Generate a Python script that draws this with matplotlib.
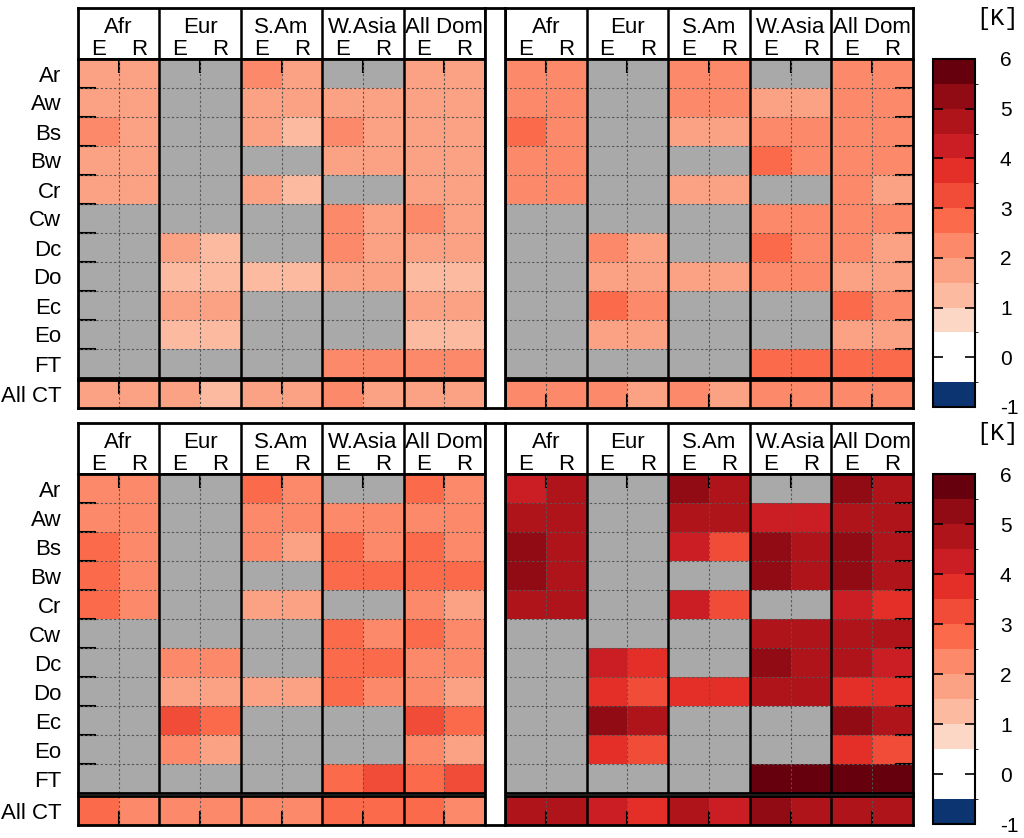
import numpy as np
import matplotlib.pyplot as plt
from matplotlib.colors import ListedColormap, BoundaryNorm
from matplotlib.cm import ScalarMappable

nan = np.nan

# labels
ROWS = ["Ar", "Aw", "Bs", "Bw", "Cr", "Cw", "Dc", "Do", "Ec", "Eo", "FT", "All CT"]
REGIONS = ["Afr", "Eur", "S.Am", "W.Asia", "All Dom"]
SUBCOLS = ["E", "R"]
LEVELS = np.arange(-1.0, 6.01, 0.5)
CBAR_TICKS = [-1, 0, 1, 2, 3, 4, 5, 6]

# columns: Afr E/R, Eur E/R, S.Am E/R, W.Asia E/R, All Dom E/R
top_left = np.array([
    [1.8, 1.8, nan, nan, 2.3, 1.8, nan, nan, 1.8, 1.8],
    [1.8, 1.8, nan, nan, 1.8, 1.8, 1.8, 1.8, 1.8, 1.8],
    [2.3, 1.8, nan, nan, 1.8, 1.3, 2.2, 1.8, 1.8, 1.8],
    [1.8, 1.8, nan, nan, nan, nan, 1.8, 1.8, 1.8, 1.8],
    [1.8, 1.8, nan, nan, 1.8, 1.3, nan, nan, 1.8, 1.8],
    [nan, nan, nan, nan, nan, nan, 2.2, 1.8, 2.2, 1.8],
    [nan, nan, 1.8, 1.3, nan, nan, 2.2, 1.8, 1.8, 1.8],
    [nan, nan, 1.3, 1.3, 1.3, 1.3, 1.8, 1.8, 1.3, 1.3],
    [nan, nan, 1.8, 1.8, nan, nan, nan, nan, 1.8, 1.8],
    [nan, nan, 1.3, 1.3, nan, nan, nan, nan, 1.3, 1.3],
    [nan, nan, nan, nan, nan, nan, 2.3, 2.3, 2.3, 2.3],
    [1.8, 1.8, 1.8, 1.3, 1.8, 1.8, 2.2, 1.8, 1.8, 1.8],
])

top_right = np.array([
    [2.3, 2.3, nan, nan, 2.3, 2.3, nan, nan, 2.3, 2.3],
    [2.3, 2.3, nan, nan, 2.3, 2.3, 1.8, 1.8, 2.3, 2.3],
    [2.8, 2.3, nan, nan, 1.8, 1.8, 2.3, 2.3, 2.3, 2.3],
    [2.3, 2.3, nan, nan, nan, nan, 2.8, 2.3, 2.3, 2.3],
    [2.3, 2.3, nan, nan, 1.8, 1.8, nan, nan, 2.3, 1.8],
    [nan, nan, nan, nan, nan, nan, 2.3, 2.3, 2.3, 2.3],
    [nan, nan, 2.3, 1.8, nan, nan, 2.8, 2.3, 2.3, 1.8],
    [nan, nan, 1.8, 1.8, 1.8, 1.8, 2.3, 2.3, 1.8, 1.8],
    [nan, nan, 2.8, 2.3, nan, nan, nan, nan, 2.8, 2.3],
    [nan, nan, 1.8, 1.8, nan, nan, nan, nan, 1.8, 1.8],
    [nan, nan, nan, nan, nan, nan, 2.8, 2.8, 2.8, 2.8],
    [2.3, 2.3, 2.3, 1.8, 2.3, 1.8, 2.3, 2.3, 2.3, 2.3],
])

bottom_left = np.array([
    [2.3, 2.3, nan, nan, 2.8, 2.3, nan, nan, 2.8, 2.3],
    [2.3, 2.3, nan, nan, 2.3, 2.3, 2.3, 2.3, 2.3, 2.3],
    [2.8, 2.3, nan, nan, 2.3, 1.8, 2.8, 2.3, 2.8, 2.3],
    [2.8, 2.3, nan, nan, nan, nan, 2.8, 2.8, 2.8, 2.8],
    [2.8, 2.3, nan, nan, 1.8, 1.8, nan, nan, 2.3, 1.8],
    [nan, nan, nan, nan, nan, nan, 2.8, 2.3, 2.8, 2.3],
    [nan, nan, 2.3, 2.3, nan, nan, 2.8, 2.8, 2.3, 2.3],
    [nan, nan, 1.8, 1.8, 1.8, 1.8, 2.8, 2.3, 2.3, 1.8],
    [nan, nan, 3.3, 2.8, nan, nan, nan, nan, 3.3, 2.8],
    [nan, nan, 2.3, 1.8, nan, nan, nan, nan, 2.3, 1.8],
    [nan, nan, nan, nan, nan, nan, 2.8, 3.3, 2.8, 3.3],
    [2.8, 2.3, 2.3, 2.3, 2.3, 2.3, 2.8, 2.8, 2.8, 2.3],
])

bottom_right = np.array([
    [4.3, 4.8, nan, nan, 5.3, 4.8, nan, nan, 5.3, 4.8],
    [4.8, 4.8, nan, nan, 4.8, 4.8, 4.3, 4.3, 4.8, 4.8],
    [5.3, 4.8, nan, nan, 4.3, 3.3, 5.3, 4.8, 5.3, 4.8],
    [5.3, 4.8, nan, nan, nan, nan, 5.3, 4.8, 5.3, 4.8],
    [4.8, 4.8, nan, nan, 4.3, 3.3, nan, nan, 4.3, 3.8],
    [nan, nan, nan, nan, nan, nan, 4.8, 4.8, 4.8, 4.8],
    [nan, nan, 4.3, 3.8, nan, nan, 5.3, 4.8, 4.8, 4.3],
    [nan, nan, 3.8, 3.3, 3.8, 3.8, 4.8, 4.8, 3.8, 3.8],
    [nan, nan, 5.3, 4.8, nan, nan, nan, nan, 5.3, 4.8],
    [nan, nan, 3.8, 3.3, nan, nan, nan, nan, 3.8, 3.3],
    [nan, nan, nan, nan, nan, nan, 5.8, 5.8, 5.8, 5.8],
    [4.8, 4.8, 4.3, 3.8, 4.8, 4.3, 5.3, 4.8, 4.8, 4.8],
])

W, H = 1024, 838
plt.rcParams["font.family"] = ["Liberation Sans", "DejaVu Sans"]
plt.rcParams["axes.unicode_minus"] = False
fig = plt.figure(figsize=(W / 100, H / 100), dpi=100)

GRAY = "#a9a9a9"
colors = ["#0b3470", "#ffffff", "#ffffff",
          "#fdd7c6", "#fcbba1", "#fca284", "#fc8a6a", "#fb6b4b", "#f04c38",
          "#e32f27", "#ca1e24", "#b0141b", "#900b13", "#67000d"]
cmap = ListedColormap(colors)
cmap.set_bad(GRAY)
norm = BoundaryNorm(LEVELS, cmap.N)

SPINE_LW = 2.0
FS = 16


# axes placed by pixel box (x0, y0) top-left, (x1, y1) bottom-right
def px_axes(x0, y0, x1, y1):
    return fig.add_axes([x0 / W, 1 - y1 / H, (x1 - x0) / W, (y1 - y0) / H])


def frame(ax):
    for s in ax.spines.values():
        s.set_linewidth(SPINE_LW)


def separators(ax):
    for x in [1, 3, 5, 7, 9]:
        ax.axvline(x, color="#555555", lw=0.8, ls=(0, (2, 2)))
    for x in [2, 4, 6, 8]:
        ax.axvline(x, color="black", lw=1.8)


def draw_block(x0, x1, y_head, y_main, y_main_end, y_ct0, y_ct1, data, left, ct_top):
    # header with region names
    hax = px_axes(x0, y_head, x1, y_main)
    hax.set_xlim(0, 10)
    hax.set_ylim(0, 1)
    hax.set_xticks([])
    hax.set_yticks([])
    for x in [2, 4, 6, 8]:
        hax.axvline(x, color="black", lw=1.8)
    for i, reg in enumerate(REGIONS):
        hax.text(2 * i + 1, 0.62, reg, ha="center", va="center", fontsize=FS)
        for j, sub in enumerate(SUBCOLS):
            hax.text(2 * i + 0.5 + j, 0.19, sub, ha="center", va="center", fontsize=FS)
    frame(hax)

    # main grid
    ax = px_axes(x0, y_main, x1, y_main_end)
    ax.set_facecolor(GRAY)
    main = np.ma.masked_invalid(data[:11])
    ax.pcolormesh(np.arange(11), np.arange(12), main, cmap=cmap, norm=norm)
    ax.set_xlim(0, 10)
    ax.set_ylim(11, 0)
    for y in range(1, 11):
        ax.axhline(y, color="#555555", lw=0.8, ls=(0, (2, 2)))
    separators(ax)
    ax.set_xticks([1, 3, 5, 7, 9])
    ax.tick_params(axis="x", direction="in", length=10, width=1.5,
                   top=True, bottom=False, labeltop=False, labelbottom=False)
    if left:
        ax.set_yticks(np.arange(11) + 0.5, ROWS[:11])
        ax.set_yticks(np.arange(1, 11), minor=True)
        ax.tick_params(axis="y", which="major", length=0, pad=12, labelsize=FS)
        ax.tick_params(axis="y", which="minor", direction="in", length=13, width=1.5,
                       left=True, right=False)
    else:
        ax.set_yticks([])
        ax.set_yticks(np.arange(1, 11), minor=True)
        ax.tick_params(axis="y", which="minor", direction="in", length=13, width=1.5,
                       left=False, right=True)
    frame(ax)

    # All CT row
    cax = px_axes(x0, y_ct0, x1, y_ct1)
    cax.set_facecolor(GRAY)
    ct = np.ma.masked_invalid(data[11:12])
    cax.pcolormesh(np.arange(11), np.arange(2), ct, cmap=cmap, norm=norm)
    cax.set_xlim(0, 10)
    cax.set_ylim(1, 0)
    separators(cax)
    cax.set_xticks([1, 3, 5, 7, 9])
    cax.tick_params(axis="x", direction="in", length=10, width=1.5,
                    top=ct_top, bottom=not ct_top, labeltop=False, labelbottom=False)
    if left:
        cax.set_yticks([0.5], [ROWS[11]])
        cax.tick_params(axis="y", length=0, pad=12, labelsize=FS)
    else:
        cax.set_yticks([])
    frame(cax)


def draw_panel(y_head, y_main, y_main_end, y_ct0, y_ct1, left_data, right_data, left_ct_top):
    draw_block(78, 485, y_head, y_main, y_main_end, y_ct0, y_ct1, left_data, True, left_ct_top)
    draw_block(505, 913, y_head, y_main, y_main_end, y_ct0, y_ct1, right_data, False, False)

    # white spacer column between the two blocks
    gap = px_axes(485, y_head, 505, y_ct1)
    gap.set_xticks([])
    gap.set_yticks([])
    frame(gap)

    # colorbar
    cbax = px_axes(933, y_main, 975, y_ct1 - 1)
    cb = fig.colorbar(ScalarMappable(norm=norm, cmap=cmap), cax=cbax, ticks=CBAR_TICKS)
    cb.outline.set_linewidth(1.5)
    cbax.tick_params(direction="in", left=True, right=True, length=7, width=1.2,
                     labelsize=15, pad=18)
    fig.text(997 / W, 1 - (y_head + 10) / H, "[K]", family="Liberation Mono",
             fontsize=17, ha="center", va="center")


draw_panel(8, 59, 378, 380, 408, top_left, top_right, True)
draw_panel(423, 474, 793, 796, 825, bottom_left, bottom_right, False)

fig.savefig("out.png", dpi=100)
